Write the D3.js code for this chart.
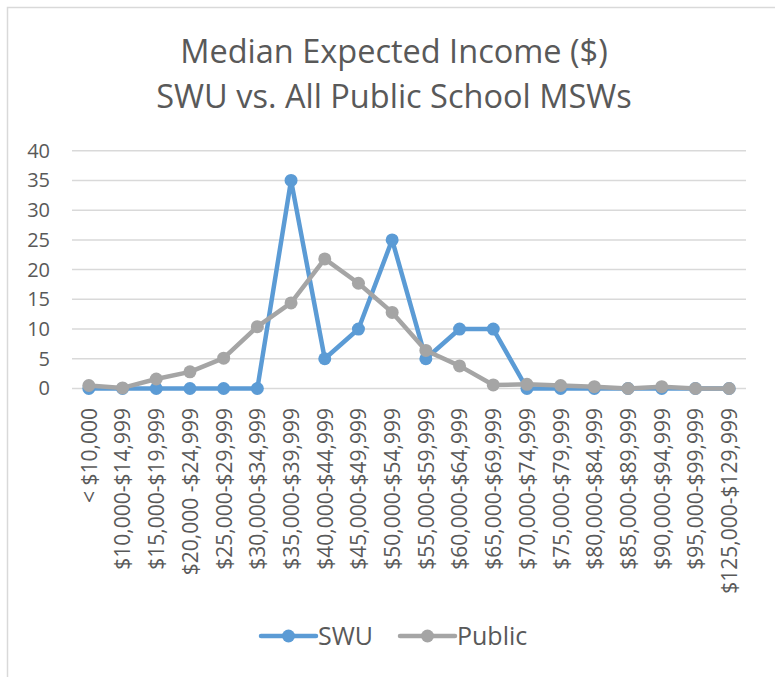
<!DOCTYPE html>
<html>
<head>
<meta charset="utf-8">
<script src="https://cdn.jsdelivr.net/npm/d3@7"></script>
<style>
   body { margin: 0; background: #fff; }
   text { font-family: "Open Sans", "Noto Sans", sans-serif; fill: #595959; }
</style>
</head>
<body>
<svg id="chart"></svg>
<script>
// data
const categories = ["< $10,000", "$10,000-$14,999", "$15,000-$19,999", "$20,000 -$24,999", "$25,000-$29,999",
   "$30,000-$34,999", "$35,000-$39,999", "$40,000-$44,999", "$45,000-$49,999", "$50,000-$54,999",
   "$55,000-$59,999", "$60,000-$64,999", "$65,000-$69,999", "$70,000-$74,999", "$75,000-$79,999",
   "$80,000-$84,999", "$85,000-$89,999", "$90,000-$94,999", "$95,000-$99,999", "$125,000-$129,999"];
const swu =    [0, 0, 0, 0, 0, 0, 35, 5, 10, 25, 5, 10, 10, 0, 0, 0, 0, 0, 0, 0];
const publicVals = [0.5, 0.1, 1.6, 2.8, 5.1, 10.4, 14.4, 21.8, 17.7, 12.8, 6.4, 3.8, 0.6, 0.7, 0.5, 0.3, 0, 0.3, 0, 0];
const yTicks = [0, 5, 10, 15, 20, 25, 30, 35, 40];
const titleLines = ["Median Expected Income ($)", "SWU vs. All Public School MSWs"];

const width = 775, height = 677;
const svg = d3.select("#chart").attr("width", width).attr("height", height);

// chart frame
svg.append("rect")
   .attr("x", 7.5).attr("y", 7.5)
   .attr("width", 820).attr("height", 720)
   .attr("fill", "none").attr("stroke", "#d9d9d9").attr("stroke-width", 1.5);

const x = d3.scalePoint().domain(categories).range([72, 746]).padding(0.5);
const y = d3.scaleLinear().domain([0, 40]).range([388.5, 150.7]);

// title
svg.append("g").selectAll("text")
   .data(titleLines)
   .enter().append("text")
      .attr("x", 394)
      .attr("y", (d, i) => 63 + i * 45)
      .attr("text-anchor", "middle")
      .attr("font-size", 32.5)
      .text(d => d);

// grid lines
svg.append("g").selectAll("line")
   .data(yTicks)
   .enter().append("line")
      .attr("x1", 72).attr("x2", 746)
      .attr("y1", d => y(d)).attr("y2", d => y(d))
      .attr("stroke", "#d9d9d9").attr("stroke-width", 1.5);

// y axis labels
const yAxis = svg.append("g")
   .attr("transform", "translate(58,0)")
   .call(d3.axisLeft(y).tickValues(yTicks).tickSize(0).tickPadding(8));
yAxis.select(".domain").remove();
yAxis.selectAll("text").attr("font-size", 20).attr("fill", "#595959")
   .attr("font-family", "\"Open Sans\", sans-serif");

// x axis labels (rotated)
const xAxis = svg.append("g")
   .attr("transform", "translate(0,398)")
   .call(d3.axisBottom(x).tickSize(0).tickPadding(0));
xAxis.select(".domain").remove();
xAxis.selectAll("text")
   .attr("font-size", 21).attr("fill", "#595959")
   .attr("font-family", "\"Open Sans\", sans-serif")
   .attr("text-anchor", "end")
   .attr("transform", "rotate(-90)")
   .attr("x", -10).attr("y", 0).attr("dy", "0.35em");

const series = [
   { name: "SWU", values: swu, color: "#5b9bd5" },
   { name: "Public", values: publicVals, color: "#a5a5a5" }
];

const line = d3.line()
   .x((d, i) => x(categories[i]))
   .y(d => y(d));

series.forEach(s => {
   const g = svg.append("g");
   g.append("path")
      .datum(s.values)
      .attr("d", line)
      .attr("fill", "none")
      .attr("stroke", s.color)
      .attr("stroke-width", 4.5)
      .attr("stroke-linejoin", "round");
   g.selectAll("circle")
      .data(s.values)
      .enter().append("circle")
         .attr("cx", (d, i) => x(categories[i]))
         .attr("cy", d => y(d))
         .attr("r", 6.5)
         .attr("fill", s.color);
});

// legend
const legendX = [261, 400];
const legend = svg.append("g").selectAll("g")
   .data(series)
   .enter().append("g")
      .attr("transform", (d, i) => `translate(${legendX[i]},636)`);
legend.append("line")
   .attr("x1", 0).attr("x2", 55)
   .attr("stroke", d => d.color).attr("stroke-width", 4.5)
   .attr("stroke-linecap", "round");
legend.append("circle")
   .attr("cx", 27.5).attr("r", 6.5)
   .attr("fill", d => d.color);
legend.append("text")
   .attr("x", 57).attr("dy", "0.35em")
   .attr("font-size", 25)
   .text(d => d.name);
</script>
</body>
</html>
